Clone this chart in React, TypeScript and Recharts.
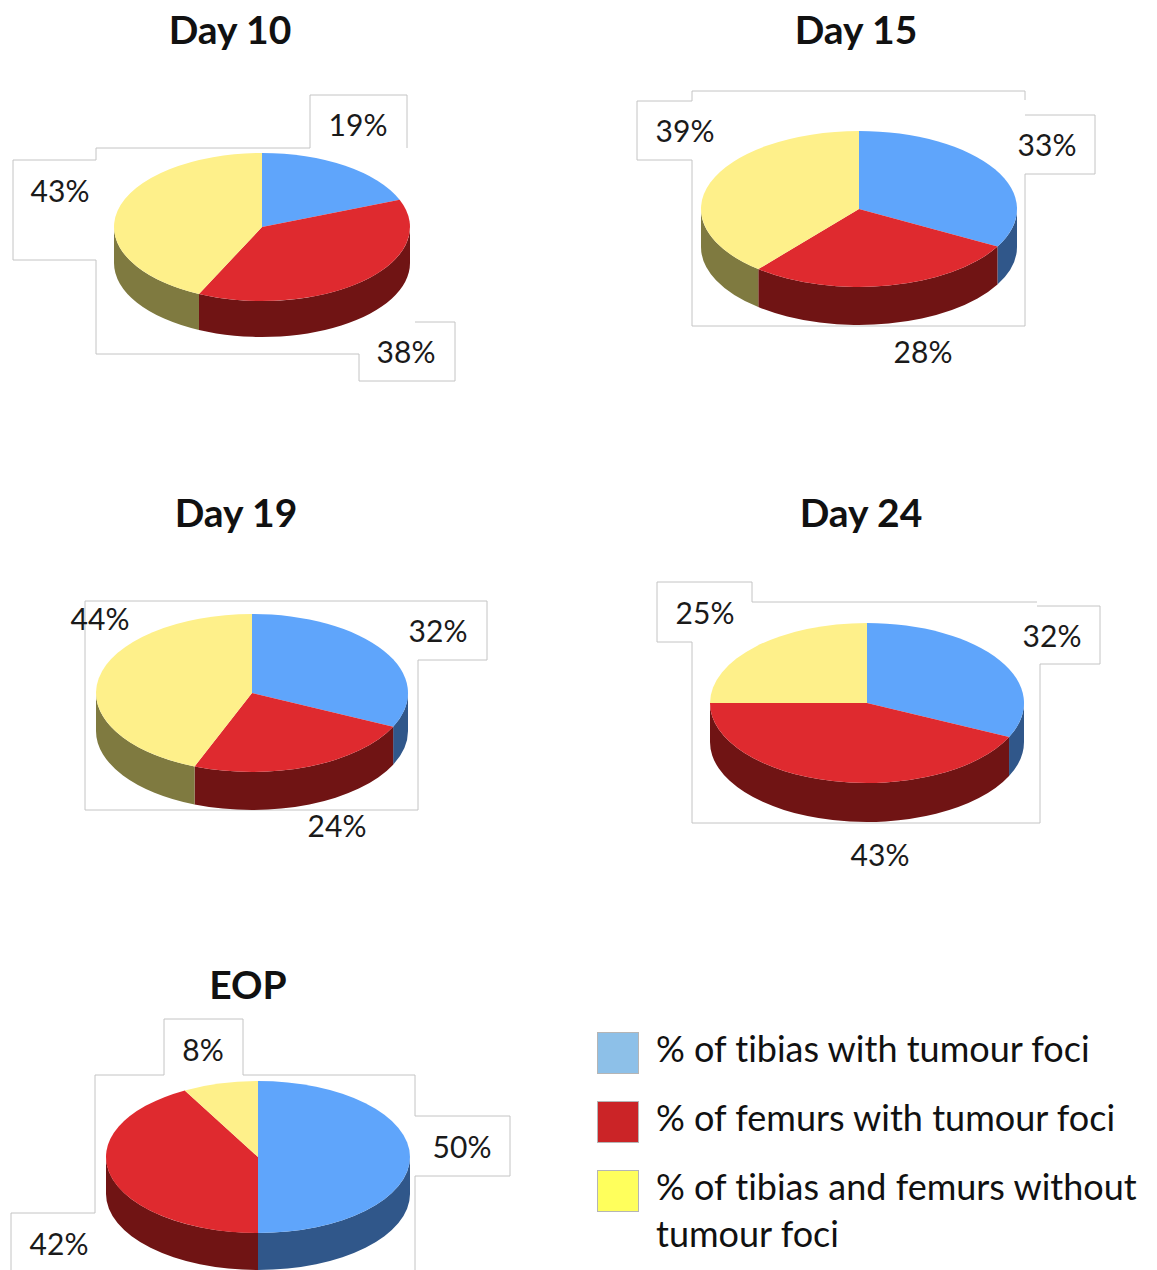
import React from "react";
import { Cell, Pie, PieChart } from "recharts";

const WIDTH = 1157;
const HEIGHT = 1270;
const FONT = "Lato, 'Open Sans', sans-serif";

const categories = ["tibias", "femurs", "none"];
const day10Values = [19, 38, 43];
const day15Values = [33, 28, 39];
const day19Values = [32, 24, 44];
const day24Values = [32, 43, 25];
const eopValues = [50, 42, 8];

const topColors = ["#5fa5fb", "#df2a2f", "#fef08a"];
const sideColors = ["#30578a", "#701414", "#7f7a40"];
const legendColors = ["#8dc0e8", "#cb2427", "#ffff5c"];

const legendRows = [
  { swatchY: 1032, lines: ["% of tibias with tumour foci"] },
  { swatchY: 1101, lines: ["% of femurs with tumour foci"] },
  { swatchY: 1170, lines: ["% of tibias and femurs without", "tumour foci"] },
];

const panels = [
  {
    title: "Day 10",
    titleAt: [230, 29],
    values: day10Values,
    cx: 262,
    cy: 227,
    rx: 148,
    ry: 74,
    depth: 36,
    labelAt: [[358, 124], [406, 351], [60, 190]],
    outline:
      "M415 322H455V381H359V354H96V260H13V160H96V148H310V95H407V148",
  },
  {
    title: "Day 15",
    titleAt: [856, 29],
    values: day15Values,
    cx: 859,
    cy: 209,
    rx: 158,
    ry: 78,
    depth: 38,
    labelAt: [[1047, 144], [923, 351], [685, 130]],
    outline:
      "M1025 115H1095V174H1025V326H692V160H637V101H692V91H1025V100",
  },
  {
    title: "Day 19",
    titleAt: [236, 512],
    values: day19Values,
    cx: 252,
    cy: 693,
    rx: 156,
    ry: 79,
    depth: 38,
    labelAt: [[438, 630], [337, 825], [100, 618]],
    outline: "M389 601H487V660H418V810H85V601H389",
  },
  {
    title: "Day 24",
    titleAt: [861, 512],
    values: day24Values,
    cx: 867,
    cy: 703,
    rx: 157,
    ry: 80,
    depth: 39,
    labelAt: [[1052, 635], [880, 854], [705, 612]],
    outline:
      "M1037 606H1100V664H1040V823H692V642H657V582H752V602H1037",
  },
  {
    title: "EOP",
    titleAt: [248, 984],
    values: eopValues,
    cx: 258,
    cy: 1157,
    rx: 152,
    ry: 76,
    depth: 37,
    labelAt: [[462, 1146], [59, 1243], [203, 1049]],
    outline:
      "M11 1270V1213H95V1075H164V1019H243V1075H415V1116H510V1176H415V1270",
  },
];

const RAD = Math.PI / 180;

// Recharts hands over a circular sector; flatten it and add the rim below the front edge.
function tiltedSector(ry: number, depth: number) {
  return (props: any) => {
    const { cx, cy, outerRadius: rx, startAngle, endAngle } = props;
    const name = props.name ?? props.payload?.name;
    const idx = categories.indexOf(name);
    const at = (angle: number, drop = 0) => [
      cx + rx * Math.cos(angle * RAD),
      cy - ry * Math.sin(angle * RAD) + drop,
    ];
    const [sx, sy] = at(startAngle);
    const [ex, ey] = at(endAngle);
    const large = startAngle - endAngle > 180 ? 1 : 0;
    const top = `M${cx} ${cy}L${sx} ${sy}A${rx} ${ry} 0 ${large} 1 ${ex} ${ey}Z`;

    // only angles between 0 and -180 face the viewer
    const from = Math.min(startAngle, 0);
    const to = Math.max(endAngle, -180);
    let side = null;
    if (from > to) {
      const [ax, ay] = at(from);
      const [bx, by] = at(to);
      const d = `M${ax} ${ay}A${rx} ${ry} 0 0 1 ${bx} ${by}L${bx} ${by + depth}A${rx} ${ry} 0 0 0 ${ax} ${ay + depth}Z`;
      side = <path d={d} fill={sideColors[idx]} />;
    }
    return (
      <g>
        {side}
        <path d={top} fill={topColors[idx]} />
      </g>
    );
  };
}

function percentLabel(positions: number[][]) {
  return (props: any) => {
    const [x, y] = positions[props.index];
    return (
      <text
        key={props.index}
        x={x}
        y={y}
        fontFamily={FONT}
        fontSize={30}
        fill="#1a1a1a"
        textAnchor="middle"
        dominantBaseline="central"
      >
        {props.value}%
      </text>
    );
  };
}

export default function App() {
  return (
    <div style={{ position: "absolute", left: 0, top: 0, width: WIDTH, height: HEIGHT, background: "#fff", overflow: "hidden" }}>
      <svg width={WIDTH} height={HEIGHT} style={{ position: "absolute", left: 0, top: 0 }}>
        {panels.map((p) => (
          <g key={p.title}>
            <path d={p.outline} fill="none" stroke="#c4c4c4" strokeWidth={1} />
            <text
              x={p.titleAt[0]}
              y={p.titleAt[1]}
              fontFamily={FONT}
              fontWeight={700}
              fontSize={39}
              fill="#111"
              textAnchor="middle"
              dominantBaseline="central"
            >
              {p.title}
            </text>
          </g>
        ))}
        {legendRows.map((row, i) => (
          <g key={i}>
            <rect x={597.5} y={row.swatchY + 0.5} width={41} height={41} fill={legendColors[i]} stroke="#b5b5b5" />
            {row.lines.map((line, j) => (
              <text
                key={j}
                x={656}
                y={row.swatchY + 30 + j * 47}
                fontFamily={FONT}
                fontSize={36}
                fill="#111"
                style={{ fontVariantLigatures: "none" }}
              >
                {line}
              </text>
            ))}
          </g>
        ))}
      </svg>
      <div style={{ position: "absolute", left: 0, top: 0 }}>
        <PieChart width={WIDTH} height={HEIGHT} margin={{ top: 0, right: 0, bottom: 0, left: 0 }}>
          {panels.map((p) => (
            <Pie
              key={p.title}
              data={categories.map((name, i) => ({ name, value: p.values[i] }))}
              dataKey="value"
              nameKey="name"
              cx={p.cx}
              cy={p.cy}
              innerRadius={0}
              outerRadius={p.rx}
              startAngle={90}
              endAngle={-270}
              stroke="none"
              isAnimationActive={false}
              shape={tiltedSector(p.ry, p.depth)}
              label={percentLabel(p.labelAt)}
              labelLine={false}
            >
              {categories.map((name, i) => (
                <Cell key={name} fill={topColors[i]} />
              ))}
            </Pie>
          ))}
        </PieChart>
      </div>
    </div>
  );
}
